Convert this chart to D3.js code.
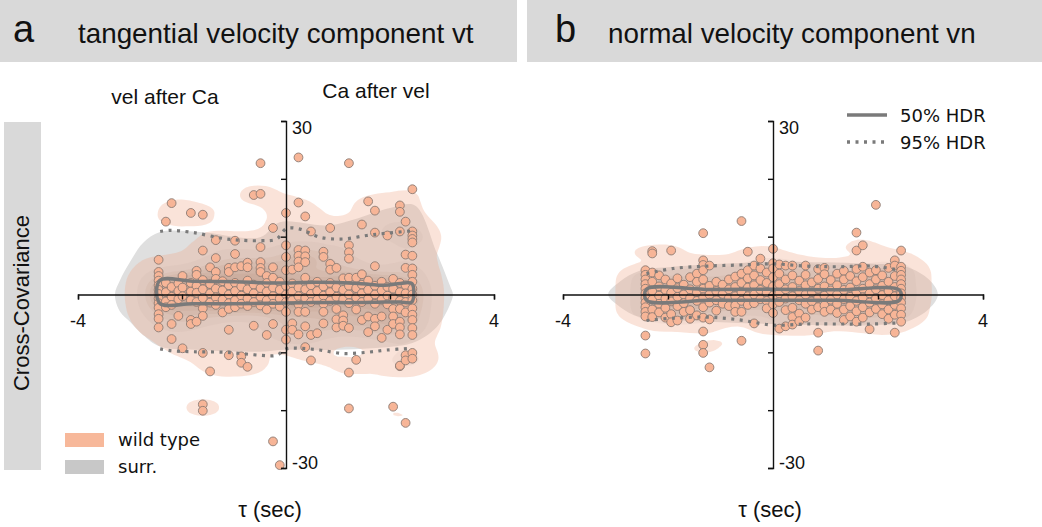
<!DOCTYPE html>
<html><head><meta charset="utf-8">
<script src="https://cdn.jsdelivr.net/npm/d3@7"></script>
<style>
body{margin:0;background:#fff}
svg{display:block}
text{font-family:"Liberation Sans",Arial,sans-serif;fill:#111}
.leg{font-family:"DejaVu Sans",sans-serif}
</style>
</head><body>
<svg id="c" width="1042" height="527"></svg>
<script>
// ---------------- DATA ----------------
const panelTitles = ["tangential velocity component vt", "normal velocity component vn"];
const panelLetters = ["a", "b"];
const xLabelTicks = [-4, 4];
const xTicks = [-4, -2, 0, 2, 4];
const yTicks = [-30, -20, -10, 0, 10, 20, 30];
const yLabelTicks = [30, -30];
const legendSeries = ["wild type", "surr."];
const legendLines = ["50% HDR", "95% HDR"];

// panel a : wild-type cross-covariance, grouped by lag column (tau, sec)
const tauA = [-2.45,-2.31,-2.2,-2.07,-1.99,-1.83,-1.72,-1.6,-1.46,-1.35,-1.22,-1.1,-0.98,-0.86,-0.74,-0.62,-0.49,-0.37,-0.25,-0.12,0,0.12,0.24,0.37,0.48,0.6,0.72,0.85,0.97,1.1,1.21,1.35,1.46,1.58,1.71,1.84,1.95,2.06,2.19,2.3,2.43];
const covA = [
 [6.0,3.9,3.2,2.4,1.6,0.8,0.1,-0.7,-1.5,-2.3,-3.4,-4.2,-5.7],
 [12.6,2.0,0.4,-1.2,-2.2],
 [15.8,1.3,-0.4,-1.8,-5.1,-7.7],
 [1.9,0.6,-0.8,-3.7],
 [3.2,1.2,-0.3,-9.3],
 [14.1,2.0,0.5,-1.0,-4.4,-5.1],
 [4.1,3.4,1.5,0.3,-1.3,-4.7],
 [13.8,7.6,2.5,0.9,-0.6,-2.4,-3.7,-10.1,-19.0,-20.1],
 [4.7,1.8,0.2,-1.4,-13.3],
 [9.4,6.3,3.9,2.7,1.0,-0.5,-1.8],
 [2.3,0.7,-0.9,-3.1],
 [4.6,3.9,1.6,0.0,-1.5,-2.5,-6.1,-10.5],
 [9.3,7.0,4.7,2.0,0.6,-1.0,-2.2],
 [4.9,1.4,-0.2,-1.6,-10.7,-11.8],
 [5.5,4.7,2.4,0.9,-0.7,-2.0,-12.5],
 [17.2,1.7,0.2,-1.3,-5.4],
 [22.7,17.4,8.2,5.6,4.6,3.9,1.1,-0.4,-1.9],
 [3.2,2.0,0.5,-1.0,-2.6,-7.0],
 [11.5,4.7,2.9,1.2,-0.3,-1.6,-5.1,-25.4],
 [2.2,0.8,-0.7,-2.1,-29.5],
 [14.1,8.5,6.5,4.2,1.5,0.0,-1.3,-3.0,-6.1,-7.8],
 [4.3,1.9,0.5,-1.0,-5.0,-6.1],
 [23.7,15.9,7.7,6.7,5.7,4.7,1.2,-0.3,-1.7,-3.0,-6.9],
 [13.5,7.6,6.6,5.6,2.9,0.9,-0.6,-3.0,-5.5,-9.1],
 [10.9,1.6,0.1,-1.3,-7.0,-11.4],
 [2.2,0.6,-0.9,-6.7],
 [7.4,6.5,1.4,-0.2,-1.6,-3.0,-5.0],
 [11.5,5.3,4.3,2.0,0.4,-1.1],
 [4.6,1.2,-0.4,-2.5,-4.3,-5.7],
 [2.8,0.8,-0.8,-3.6,-4.5,-5.4],
 [22.7,8.5,7.3,6.2,2.9,1.5,0.0,-1.5,-5.8,-13.5,-19.7],
 [2.9,1.1,-0.5,-2.6,-11.3],
 [12.1,3.5,1.7,0.2,-1.3,-4.4],
 [16.1,2.4,0.8,-0.7,-3.8,-6.5],
 [14.5,10.7,4.9,1.5,0.0,-1.6,-4.2,-5.5],
 [2.2,0.7,-0.9,-3.8,-7.5],
 [10.2,1.3,-0.2,-1.7,-6.1],
 [2.7,1.0,-0.6,-2.5,-3.8,-5.1,-19.4],
 [15.4,14.3,10.9,2.0,0.4,-1.1,-2.5,-4.7,-5.7,-6.9,-12.4,-12.3],
 [12.6,6.9,4.6,1.6,0.2,-1.3,-3.1,-10.5,-11.4,-22.2],
 [18.2,10.9,10.2,9.6,9.0,6.7,4.5,3.4,2.2,1.0,0.0,-1.0,-2.4,-3.5,-4.4,-5.8,-7.0,-10.1,-11.1]
];

// panel b
const tauB = [-2.43,-2.3,-2.17,-2.05,-1.94,-1.82,-1.7,-1.58,-1.45,-1.33,-1.21,-1.08,-0.96,-0.84,-0.72,-0.6,-0.48,-0.36,-0.24,-0.12,0,0.12,0.24,0.37,0.5,0.62,0.74,0.86,0.98,1.1,1.22,1.35,1.47,1.59,1.71,1.84,1.96,2.08,2.2,2.32,2.44];
const covB = [
 [4.2,3.4,2.6,1.8,1.0,0.2,-0.6,-1.4,-2.2,-3.0,-3.8,-7.1,-10.2],
 [7.5,7.1,3.8,2.2,0.6,-0.9,-2.6,-3.9],
 [3.3,1.4,-0.2,-1.6,-3.1],
 [2.6,0.8,-0.7,-2.3,-4.0],
 [7.6,1.9,0.3,-1.2,-3.4,-4.8],
 [2.8,1.1,-0.4,-2.0,-4.5],
 [1.7,0.0,-1.5,-3.0],
 [3.0,0.9,-0.6,-2.7,-4.2],
 [3.6,2.2,0.4,-1.1,-3.6],
 [10.6,5.9,5.1,4.2,2.6,1.0,-0.5,-2.2,-4.0,-6.4,-8.7,-10.1],
 [5.0,1.5,0.0,-1.4,-4.3,-12.6],
 [2.2,0.6,-1.0,-2.8],
 [1.7,0.1,-1.6],
 [2.6,0.9,-0.6,-2.0],
 [3.1,1.3,-0.3,-1.9,-3.0],
 [12.7,3.6,2.0,0.4,-1.1,-3.0,-8.0],
 [7.4,4.2,2.8,1.2,-0.3,-1.8],
 [5.0,3.3,1.6,0.0,-1.5,-5.0],
 [6.2,4.5,2.5,0.8,-0.8],
 [3.8,2.0,0.4,-1.1,-2.4],
 [7.9,5.4,4.5,3.0,1.4,-0.2,-1.7,-3.2],
 [5.2,3.6,1.8,0.2,-1.3,-5.9],
 [5.0,2.6,0.9,-0.7,-2.7,-5.5],
 [5.0,3.3,1.3,-0.3,-2.3,-3.9,-5.2],
 [2.4,0.6,-1.0,-3.3,-4.6],
 [5.0,3.4,1.6,0.0,-1.6,-4.0],
 [2.1,0.4,-1.2,-2.6],
 [4.4,2.7,1.0,-0.6,-2.2,-6.6,-9.7],
 [4.6,3.5,1.4,-0.2,-1.9,-3.0],
 [2.5,0.7,-0.9,-2.6],
 [3.6,1.6,0.0,-1.6,-3.2],
 [4.1,2.6,0.8,-0.8,-2.6,-4.4],
 [3.2,1.2,-0.4,-2.0,-3.8],
 [10.7,7.6,4.4,2.3,0.5,-1.1,-2.9,-4.7],
 [8.5,4.8,3.0,1.0,-0.5,-2.2,-4.0],
 [3.8,1.8,0.2,-1.4,-3.1,-6.0],
 [15.5,4.2,2.6,0.9,-0.7,-2.5],
 [3.3,1.5,-0.1,-1.7,-3.4],
 [4.6,2.2,0.6,-1.0,-2.6,-4.2],
 [5.9,5.0,3.2,1.3,-0.3,-1.8,-3.5,-6.6],
 [7.6,4.8,4.1,3.4,2.6,1.8,1.0,0.2,-0.6,-1.4,-2.4,-3.5,-4.7]
];

// surrogate distribution outline (upper / lower bound vs tau)
const surrTauA = [-3.29,-3.19,-3.0,-2.75,-2.42,-1.65,-0.5,-0.12,0.85,2.06,2.48,2.9,3.15,3.21];
const surrUpA  = [0,2.5,5.6,8.9,10.8,10.8,9.9,12.5,12.0,15.1,15.4,7.2,1.6,0];
const surrLoA  = [0,-3.0,-4.7,-7.0,-9.0,-9.6,-9.9,-9.6,-9.6,-9.0,-8.2,-5.6,-1.8,0];
const surrTauB = [-3.14,-2.92,-2.54,-1.9,0,1.9,2.54,2.98,3.14];
const surrUpB  = [0,2.2,4.1,4.8,5.6,5.3,4.8,2.5,0];
const surrLoB  = [0,-2.1,-3.9,-4.4,-5.1,-5.3,-4.7,-2.4,0];

// HDR contours of surrogates
const hdr50TauA = [-2.43,-1.8,-1.0,-0.2,0.6,1.4,1.9,2.2,2.42];
const hdr50UpA  = [2.4,2.3,2.2,2.0,2.1,1.9,1.6,1.9,1.9];
const hdr50LoA  = [-1.5,-1.6,-1.6,-1.5,-1.4,-1.4,-1.3,-1.3,-1.3];
const hdr95TauA = [-2.42,-2.23,-1.78,-1.14,-0.5,-0.18,0.01,0.27,0.65,1.1,1.55,1.94,2.41];
const hdr95UpA  = [10.9,11.1,10.7,9.6,9.3,9.6,11.4,11.3,9.9,9.6,10.2,10.6,11.0];
const hdr95LoA  = [-9.4,-9.7,-9.9,-10.0,-10.5,-10.5,-9.4,-9.3,-9.6,-10.2,-10.0,-9.6,-9.3];
const hdr50TauB = [-2.41,-1.2,0,1.2,2.41];
const hdr50UpB  = [0.9,0.85,0.9,0.8,0.75];
const hdr50LoB  = [-1.0,-1.0,-1.0,-1.0,-1.0];
const hdr95TauB = [-2.41,-1.9,-1.27,-0.63,0,0.63,1.27,1.9,2.41];
const hdr95UpB  = [3.6,4.5,4.9,5.1,5.3,4.9,4.8,4.9,4.2];
const hdr95LoB  = [-4.5,-4.1,-3.9,-4.4,-5.3,-5.1,-5.1,-5.1,-4.9];

// ---------------- DRAW ----------------
const svg = d3.select("#c");
const GRAYBAR = "#d9d9d9";
svg.append("rect").attr("x",0).attr("y",0).attr("width",517).attr("height",62).attr("fill",GRAYBAR);
svg.append("rect").attr("x",527).attr("y",0).attr("width",515).attr("height",62).attr("fill",GRAYBAR);
svg.append("rect").attr("x",4).attr("y",122).attr("width",37).attr("height",348).attr("fill",GRAYBAR);
svg.append("text").attr("transform","translate(29,303) rotate(-90)").attr("text-anchor","middle")
  .style("font-size","22px").text("Cross-Covariance");

const titleX = [[13,78],[555,608]];
panelTitles.forEach((t,i)=>{
  svg.append("text").attr("x",titleX[i][0]).attr("y",42).style("font-size","38px").text(panelLetters[i]);
  svg.append("text").attr("x",titleX[i][1]).attr("y",43).style("font-size","27.8px").text(t);
});

svg.append("text").attr("x",165).attr("y",104).attr("text-anchor","middle").style("font-size","21px").text("vel after Ca");
svg.append("text").attr("x",376).attr("y",98).attr("text-anchor","middle").style("font-size","21px").text("Ca after vel");

function panel(cfg){
  const x = d3.scaleLinear().domain([-4,4]).range(cfg.xr);
  const y = d3.scaleLinear().domain([-30,30]).range([468,121]);
  const g = svg.append("g");

  // surrogate region
  const up = cfg.surrTau.map((t,i)=>[x(t), y(cfg.surrUp[i])]);
  const lo = cfg.surrTau.map((t,i)=>[x(t), y(cfg.surrLo[i])]).slice(1,-1).reverse();
  g.append("path").attr("d", d3.line().curve(d3.curveCatmullRomClosed)(up.concat(lo)))
    .attr("fill","#dfdfdf");

  // wild-type density
  const pts = cfg.tau.flatMap((t,i)=>cfg.cov[i].map(v=>[t,v]));
  const sx = cfg.sx, bw = cfg.bw;
  const peak = 1/(2*Math.PI*bw*bw);
  const levels = [1.1, 3.5, 6, 7.5, 9, 10.5, 12, 14, 16];
  const dens = d3.contourDensity()
    .x(d=>x(d[0])/sx).y(d=>y(d[1]))
    .size([Math.ceil(1042/sx), 527]).cellSize(2).bandwidth(bw)
    .thresholds(levels.map(k=>k*peak));
  const cs = dens(pts);
  const proj = d3.geoTransform({point(px,py){ this.stream.point(px*sx, py); }});
  const gp = d3.geoPath(proj);
  g.append("g").selectAll("path").data(cs).join("path")
    .attr("d", gp)
    .attr("fill",(d,i)=> i===0 ? "#f0a988" : (i===1 ? "#b9a094" : "#9e6d4c"))
    .attr("fill-opacity",(d,i)=> i===0 ? 0.32 : (i===1 ? 0.1 : 0.075));

  // points
  g.append("g").selectAll("circle").data(pts).join("circle")
    .attr("cx",d=>x(d[0])).attr("cy",d=>y(d[1])).attr("r",4.4)
    .attr("fill","#f7b597").attr("stroke","#8c7b73").attr("stroke-width",0.9);

  // HDR 50% (closed loop)
  const h50 = cfg.h50Tau.map((t,i)=>[x(t), y(cfg.h50Up[i])])
    .concat(cfg.h50Tau.map((t,i)=>[x(t), y(cfg.h50Lo[i])]).reverse());
  g.append("path").attr("d", d3.line().curve(d3.curveCatmullRomClosed)(h50))
    .attr("fill","none").attr("stroke","#7a7a7a").attr("stroke-width",3.5);
  // HDR 95% (dotted)
  const l95 = d3.line().curve(d3.curveCatmullRom);
  [cfg.h95Up, cfg.h95Lo].forEach(arr=>{
    g.append("path").attr("d", l95(cfg.h95Tau.map((t,i)=>[x(t), y(arr[i])])))
      .attr("fill","none").attr("stroke","#7a7a7a").attr("stroke-width",3.2)
      .attr("stroke-dasharray","3,5.5");
  });

  // axes
  const ax = g.append("g").attr("transform",`translate(0,${y(0)})`)
    .call(d3.axisBottom(x).tickValues(xTicks).tickSize(5).tickSizeOuter(5).tickFormat(""));
  const ay = g.append("g").attr("transform",`translate(${x(0)},0)`)
    .call(d3.axisLeft(y).tickValues(yTicks).tickSize(5).tickSizeOuter(5).tickFormat(""));
  [ax,ay].forEach(a=>{a.selectAll("path,line").attr("stroke","#111").attr("stroke-width",1.4);});
  xLabelTicks.forEach(v=>{
    g.append("text").attr("x",x(v)).attr("y",y(0)+32.5).attr("text-anchor","middle")
      .style("font-size","18px").text(v);
  });
  yLabelTicks.forEach(v=>{
    g.append("text").attr("x",x(0)+6).attr("y", v>0 ? y(v)+12.5 : y(v)+1)
      .style("font-size","18px").text(v);
  });
  g.append("text").attr("x",cfg.tauLabelX).attr("y",517).attr("text-anchor","middle")
    .style("font-size","22px").text("τ (sec)");
}

panel({xr:[78,494], tau:tauA, cov:covA, sx:2, bw:8.5,
  surrTau:surrTauA, surrUp:surrUpA, surrLo:surrLoA,
  h50Tau:hdr50TauA, h50Up:hdr50UpA, h50Lo:hdr50LoA,
  h95Tau:hdr95TauA, h95Up:hdr95UpA, h95Lo:hdr95LoA, tauLabelX:270});
panel({xr:[563,983], tau:tauB, cov:covB, sx:3, bw:5.5,
  surrTau:surrTauB, surrUp:surrUpB, surrLo:surrLoB,
  h50Tau:hdr50TauB, h50Up:hdr50UpB, h50Lo:hdr50LoB,
  h95Tau:hdr95TauB, h95Up:hdr95UpB, h95Lo:hdr95LoB, tauLabelX:770});

// legend a
const swatch = ["#f7b89a","#c8c8c8"];
legendSeries.forEach((s,i)=>{
  svg.append("rect").attr("x",65).attr("y",433+i*27).attr("width",39).attr("height",14).attr("fill",swatch[i]);
  svg.append("text").attr("class","leg").attr("x",118).attr("y",446+i*27).style("font-size","18px").text(s);
});
// legend b
legendLines.forEach((s,i)=>{
  svg.append("line").attr("x1",847).attr("x2",887).attr("y1",115+i*27).attr("y2",115+i*27)
    .attr("stroke","#7a7a7a").attr("stroke-width",3.5).attr("stroke-dasharray", i ? "3,5.5" : null);
  svg.append("text").attr("class","leg").attr("x",900).attr("y",122+i*27).style("font-size","18px").text(s);
});
</script>
</body></html>
